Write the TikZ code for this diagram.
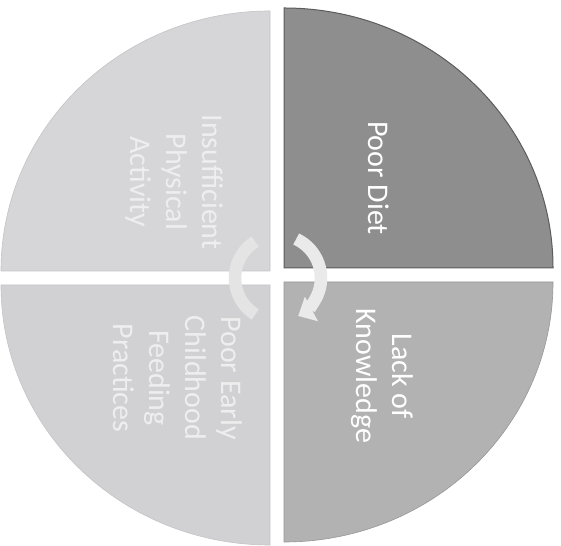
\documentclass[tikz,border=0pt]{standalone}
\usepackage{fontspec}
\setmainfont{Carlito}
\usetikzlibrary{arrows.meta}
\definecolor{qTR}{HTML}{8E8E8E}
\definecolor{qBR}{HTML}{B2B2B2}
\definecolor{qTL}{HTML}{D6D6D8}
\definecolor{qBL}{HTML}{D1D1D4}
\definecolor{edgeTR}{HTML}{5C5C5C}
\definecolor{edgeL}{HTML}{C4C4C6}
\definecolor{arrowR}{HTML}{EAEAEA}
\definecolor{arrowL}{HTML}{E4E4E5}
\definecolor{txtL}{HTML}{EEEEEF}
\begin{document}
\begin{tikzpicture}[x=1pt,y=1pt,
  lbl/.style={rotate=-90, align=center, font=\fontsize{30}{36}\selectfont, inner sep=0pt},
  quad/.style={line width=0.6pt},
  cyclearrow/.style={line width=12.5pt}]
\useasboundingbox (0,0) rectangle (561,545);
\fill[white] (0,0) rectangle (561,545);
% quadrants
\filldraw[quad, fill=qTL, draw=edgeL] (270,274) -- ++(0,260) arc[start angle=90,end angle=180,x radius=269,y radius=260] -- cycle;
\filldraw[quad, fill=qTR, draw=edgeTR, line width=1pt] (284,277) -- ++(269,0) arc[start angle=0,end angle=90,x radius=269,y radius=260] -- cycle;
\filldraw[quad, fill=qBL, draw=edgeL] (270,260) -- ++(-269,0) arc[start angle=180,end angle=270,x radius=269,y radius=260] -- cycle;
\filldraw[quad, fill=qBR, draw=qBR!85!black] (284,263) -- ++(0,-260) arc[start angle=270,end angle=360,x radius=269,y radius=260] -- cycle;
% labels
\node[lbl, text=white] (diet) at (379,367) {Poor Diet};
\node[lbl, text=white] (know) at (382,169) {Lack of\\Knowledge};
\node[lbl, text=txtL] (phys) at (174,363) {Insufficient\\Physical\\Activity};
\node[lbl, text=txtL] (feed) at (178,167) {Poor Early\\Childhood\\Feeding\\Practices};
% central cycle arrows
\coordinate (hub) at (278,267);
\draw[cyclearrow, arrowL] (hub) ++(238:43) arc[start angle=238,end angle=122,radius=43];
\draw[cyclearrow, arrowR, -{Triangle[width=27pt,length=15pt]}] (hub) ++(65:43) arc[start angle=65,end angle=-62,radius=43];
\end{tikzpicture}
\end{document}
